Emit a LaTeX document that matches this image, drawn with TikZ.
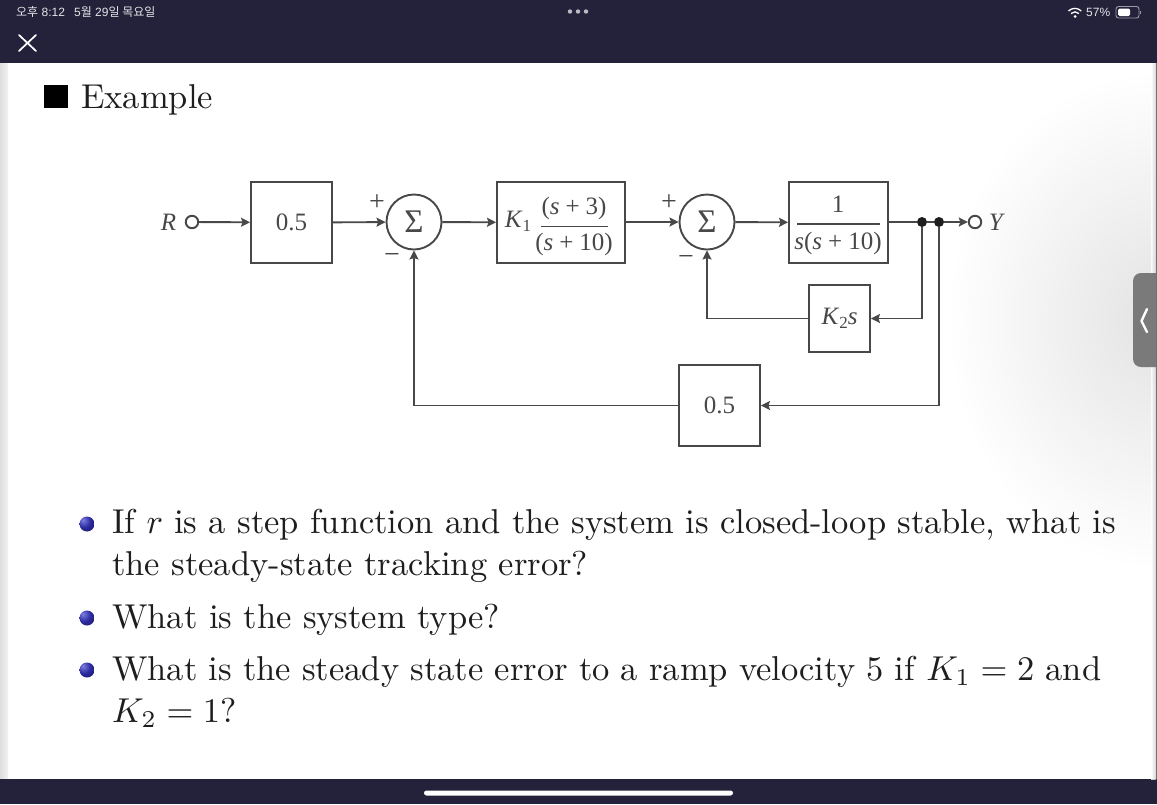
\RequirePackage{fix-cm}
\documentclass[tikz,border=0pt]{standalone}
\usepackage{graphicx}
\usepackage{fontspec}
\usetikzlibrary{arrows.meta,shadings}
\newfontfamily\dgfont{Liberation Serif}
\newfontfamily\uifont{Liberation Sans}
\newfontfamily\krfont{Noto Sans CJK KR}
\definecolor{barcol}{HTML}{24213A}
\definecolor{linecol}{HTML}{484848}
\definecolor{inkcol}{HTML}{1E1E1E}
\definecolor{tabcol}{HTML}{7A7A7A}
\newcommand{\slidescale}{3.45}
\newcommand{\slidetext}[1]{\scalebox{\slidescale}{\fontsize{10}{12}\selectfont #1}}
\newcommand{\dgfs}{\dgfont\fontsize{25}{27}\selectfont}
\newcommand{\opgap}{\kern 6pt}
\pgfdeclareradialshading{bulletball}{\pgfpoint{-14bp}{14bp}}{rgb(0bp)=(.50,.50,.88);rgb(22bp)=(.17,.17,.63);rgb(48bp)=(.08,.08,.36);rgb(100bp)=(.05,.05,.2)}
\tikzset{
  x=1pt,y=-1pt,
  blockbox/.style={draw=linecol,line width=1.9pt,fill=white,minimum height=81pt,inner sep=0pt,text=linecol,font=\dgfs},
  sumnode/.style={circle,draw=linecol,line width=1.9pt,fill=white,minimum size=55pt,inner sep=0pt,text=linecol,font=\dgfont\fontsize{33}{33}\selectfont},
  portnode/.style={circle,draw=linecol,line width=1.9pt,fill=white,minimum size=12.5pt,inner sep=0pt},
  dotnode/.style={circle,fill=inkcol,minimum size=10pt,inner sep=0pt},
  wire/.style={draw=linecol,line width=1.9pt,-{Stealth[length=9pt,width=9pt,inset=1.5pt]}},
  plainwire/.style={draw=linecol,line width=1.9pt},
  dglabel/.style={inner sep=0pt,text=linecol,font=\dgfs},
  signlabel/.style={dglabel,font=\dgfont\fontsize{28}{28}\selectfont},
  slideline/.style={anchor=base west,inner sep=0pt,text=inkcol},
  ballnode/.style={circle,minimum size=15pt,inner sep=0pt,shading=bulletball},
  uilabel/.style={anchor=base west,inner sep=0pt,text=white!88!barcol,font=\uifont\fontsize{12}{14}\selectfont},
}
\begin{document}
\begin{tikzpicture}
\useasboundingbox (0,0) rectangle (1157,804);
% page
\fill[white] (0,0) rectangle (1157,804);
\begin{scope}
  \clip (0,63) rectangle (1157,779);
  \shade[inner color=black!11,outer color=white] (1157,320) ellipse [x radius=210pt,y radius=250pt];
\end{scope}
\shade[left color=black!13,right color=black!5] (0,63) rectangle (8,779);
\fill[barcol] (0,0) rectangle (1157,63);
\fill[barcol] (0,779) rectangle (1157,804);
\fill[white,rounded corners=2.5pt] (424,790.5) rectangle (733,795.5);
% status bar
\node[uilabel] at (16,16) {{\krfont 오후} 8:12};
\node[uilabel] at (74,16) {5{\krfont 월} 29{\krfont 일 목요일}};
\foreach \cx in {570,578,586} \fill[white!70!barcol] (\cx,11.5) circle (2.2pt);
\draw[white,line width=1.7pt,line cap=round] (19,35) -- (36,51) (36,35) -- (19,51);
\begin{scope}[white]
  \fill (1075,16.5) circle (1.5pt);
  \draw[line width=1.3pt] (1071,13.5) arc[start angle=135,end angle=45,radius=5.6pt];
  \draw[line width=1.3pt] (1068.5,11) arc[start angle=135,end angle=45,radius=9pt];
\end{scope}
\node[uilabel] at (1086,16) {57\%};
\draw[white!55!barcol,line width=.9pt,rounded corners=2.5pt] (1116,6.5) rectangle (1139,18);
\fill[white,rounded corners=1.5pt] (1118,8.5) rectangle (1130,16);
\fill[white!55!barcol] (1140,10.5) rectangle (1141.2,14);
% side edge and tab
\shade[left color=white,right color=black!20,opacity=.8] (1151,63) rectangle (1156,779);
\fill[tabcol,rounded corners=8pt] (1133,273) rectangle (1170,367);
\fill[black!55] (1156,63) rectangle (1157,779);
\draw[white,line width=2.4pt,line cap=round,line join=round] (1147,309) -- (1141.5,321) -- (1147,332);
% heading
\fill[black] (44,85) rectangle (68,108);
\node[slideline] (head) at (81,108.5) {\slidetext{Example}};
% diagram
\node[portnode] (rin) at (192,222) {};
\node[dglabel] (rlab) at (168.5,222.5) {\textit{R}};
\node[blockbox,minimum width=81pt] (ga) at (291.5,222.5) {0.5};
\node[sumnode] (sa) at (414,222) {\raisebox{-1pt}{Σ}};
\node[blockbox,minimum width=128pt] (gb) at (561,222.5) {};
\node[dglabel] (kone) at (518,221) {\textit{K}\raisebox{-4pt}{\fontsize{17}{17}\selectfont 1}};
\node[dglabel] (gbnum) at (574,208) {(\textit{s}\opgap+\opgap3)};
\node[dglabel] (gbden) at (574,244) {(\textit{s}\opgap+\opgap10)};
\draw[plainwire,line width=1.2pt] (541,226.5) -- (608,226.5);
\node[sumnode] (sb) at (707,222) {\raisebox{-1pt}{Σ}};
\node[blockbox,minimum width=99pt] (gc) at (838.5,222.5) {};
\node[dglabel] (gcnum) at (838,204) {1};
\node[dglabel] (gcden) at (838,243) {\textit{s}(\textit{s}\opgap+\opgap10)};
\draw[plainwire,line width=1.2pt] (797,224) -- (880,224);
\node[blockbox,minimum width=61pt,minimum height=67pt] (gk) at (839.5,318.5) {\textit{K}\raisebox{-4pt}{\fontsize{17}{17}\selectfont 2}\textit{s}};
\node[blockbox,minimum width=81pt] (gf) at (719.5,405.5) {0.5};
\node[dotnode] (ja) at (922,222) {};
\node[dotnode] (jb) at (939,222) {};
\node[portnode] (rout) at (975,222) {};
\node[dglabel] (ylab) at (997,222.5) {\textit{Y}};
\node[signlabel] (pa) at (377,203) {+};
\node[signlabel] (ma) at (392,258) {−};
\node[signlabel] (pb) at (669,203) {+};
\node[signlabel] (mb) at (686,260) {−};
\draw[wire] (rin) -- (ga);
\draw[wire] (ga) -- (sa);
\draw[wire] (sa) -- (gb);
\draw[wire] (gb.east |- sb) -- (sb);
\draw[wire] (sb) -- (gc);
\draw[plainwire] (gc.east |- ja) -- (ja);
\draw[plainwire] (ja) -- (jb);
\draw[wire] (jb) -- (rout);
\draw[wire] (ja) |- (gk);
\draw[wire] (jb) |- (gf);
\draw[wire] (gk) -| (sb);
\draw[wire] (gf) -| (sa);
% bullets
\node[ballnode] (ba) at (87,524) {};
\node[slideline] (la) at (112,533) {\slidetext{\makebox[291pt][s]{If $r$ is a step function and the system is closed-loop stable, what is}}};
\node[slideline] (lb) at (112,575.5) {\slidetext{the steady-state tracking error?}};
\node[ballnode] (bb) at (87,618) {};
\node[slideline] (lc) at (112,628) {\slidetext{What is the system type?}};
\node[ballnode] (bc) at (87,670) {};
\node[slideline] (ld) at (112,680) {\slidetext{\makebox[286.67pt][s]{What is the steady state error to a ramp velocity 5 if ${K_1=2}$ and}}};
\node[slideline] (le) at (112,722) {\slidetext{$K_2=1$?}};
\end{tikzpicture}
\end{document}
